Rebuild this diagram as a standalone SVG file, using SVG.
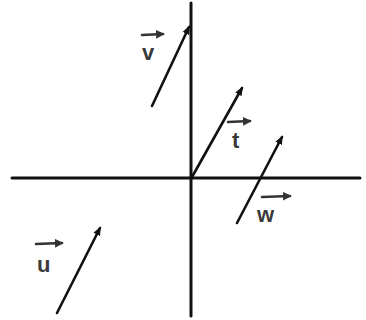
<svg xmlns="http://www.w3.org/2000/svg" width="366" height="320" viewBox="0 0 366 320">
<style>
.ax{stroke:#111;stroke-width:3;fill:none;stroke-linecap:round}
.vec{stroke:#111;stroke-width:2.6;fill:none;stroke-linecap:round}
.ov{stroke:#333;stroke-width:2.5;fill:none;stroke-linecap:round}
.lb{font-family:"Liberation Sans",sans-serif;font-size:22px;font-weight:bold;fill:#3a3a3a}
</style>
<defs>
<marker id="ah" viewBox="0 0 10 10" refX="8" refY="5" markerWidth="3.5" markerHeight="3.5" orient="auto">
<path d="M0,1 L10,5 L0,9 Z" fill="#111"/>
</marker>
<marker id="sa" viewBox="0 0 10 10" refX="8" refY="5" markerWidth="3.5" markerHeight="3.5" orient="auto">
<path d="M0,0 L10,5 L0,10 Z" fill="#333"/>
</marker>
</defs>
<rect width="366" height="320" fill="#fff"/>
<g id="connectors">
<line class="ax" x1="12" y1="178" x2="360" y2="178"/>
<line class="ax" x1="191" y1="3" x2="191" y2="316"/>
<line class="vec" x1="152" y1="106" x2="189" y2="27" marker-end="url(#ah)"/>
<line class="vec" x1="192" y1="177" x2="242" y2="88" marker-end="url(#ah)"/>
<line class="vec" x1="237" y1="223" x2="282" y2="137" marker-end="url(#ah)"/>
<line class="vec" x1="57" y1="313" x2="100" y2="228" marker-end="url(#ah)"/>
</g>
<g id="v">
<line class="ov" x1="142" y1="35" x2="163" y2="34" marker-end="url(#sa)"/>
<text class="lb" x="142" y="60">v</text>
</g>
<g id="t">
<line class="ov" x1="228" y1="122" x2="250" y2="121" marker-end="url(#sa)"/>
<text class="lb" x="232" y="148" font-size="20">t</text>
</g>
<g id="w">
<line class="ov" x1="262" y1="197" x2="290" y2="196" marker-end="url(#sa)"/>
<text class="lb" x="257" y="222">w</text>
</g>
<g id="u">
<line class="ov" x1="36" y1="244" x2="62" y2="243" marker-end="url(#sa)"/>
<text class="lb" x="37" y="272">u</text>
</g>
</svg>
